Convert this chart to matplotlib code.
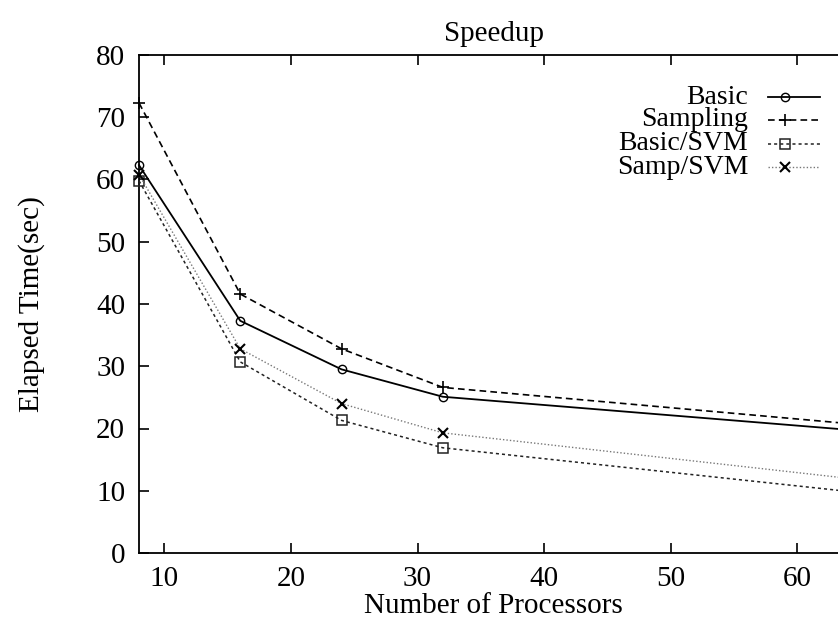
import matplotlib
matplotlib.use("Agg")
import matplotlib.pyplot as plt
from matplotlib.lines import Line2D

processors = [8, 16, 24, 32, 64]
basic = [62.3, 37.3, 29.5, 25.1, 19.8]
sampling = [72.3, 41.6, 32.8, 26.6, 20.8]
basic_svm = [59.8, 30.7, 21.3, 16.9, 9.9]
samp_svm = [60.8, 32.8, 24.0, 19.3, 12.0]
labels = ["Basic", "Sampling", "Basic/SVM", "Samp/SVM"]
xticks = [10, 20, 30, 40, 50, 60]
yticks = [0, 10, 20, 30, 40, 50, 60, 70, 80]

plt.rcParams['font.family'] = ['Liberation Serif', 'DejaVu Serif']

W, H = 838, 628
fig = plt.figure(figsize=(W / 100, H / 100), dpi=100)
left, right, top, bottom = 139, 848, 55, 553
ax = fig.add_axes([left / W, 1 - bottom / H, (right - left) / W, (bottom - top) / H])

styles = [
    dict(color='black', ls='-', lw=1.3, marker='o', ms=6, mfc='none', mew=1.0),
    dict(color='black', ls=(0, (4, 2.5)), lw=1.2, marker='+', ms=9, mew=1.2),
    dict(color='#222222', ls=(0, (2, 2)), lw=1.1, marker='s', ms=6.5, mfc='none', mew=1.1),
    dict(color='#777777', ls=(0, (1, 1.5)), lw=1.0, marker='x', ms=7, mew=1.5, mec='black'),
]
series = [basic, sampling, basic_svm, samp_svm]
for ys, st in zip(series, styles):
    ax.plot(processors, ys, clip_on=False, zorder=3, **st)

ax.set_xlim(8, 64)
ax.set_ylim(0, 80)
ax.set_xticks(xticks)
ax.set_yticks(yticks)
ax.tick_params(direction='in', length=7, width=1.2, labelsize=21, top=True, right=False, pad=10)
ax.tick_params(axis='x', pad=9)
for s in ['left', 'bottom', 'top']:
    ax.spines[s].set_linewidth(1.3)
ax.spines['right'].set_visible(False)

ax.set_title("Speedup", fontsize=21, pad=10)
ax.set_xlabel("Number of Processors", fontsize=21, labelpad=1)
ax.set_ylabel("Elapsed Time(sec)", fontsize=21, labelpad=37)

# manual legend (right-aligned labels, samples on the right)
leg_y = [97, 120, 144, 167]
for lab, st, yp in zip(labels, styles, leg_y):
    fy = 1 - yp / H
    fig.text(748 / W, fy, lab, ha='right', va='center', fontsize=20)
    fig.add_artist(Line2D([768 / W, 820 / W], [fy, fy], transform=fig.transFigure,
                          color=st['color'], ls=st['ls'], lw=st['lw']))
    mk = {k: v for k, v in st.items() if k in ('marker', 'ms', 'mfc', 'mew', 'mec', 'color')}
    fig.add_artist(Line2D([785 / W], [fy], transform=fig.transFigure, ls='none', **mk))

fig.savefig("out.png", dpi=100)
